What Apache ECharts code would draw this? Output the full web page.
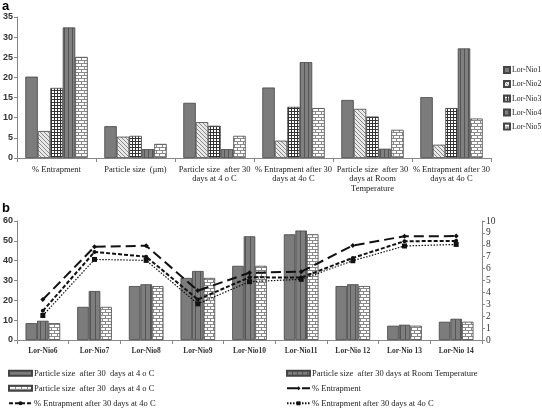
<!DOCTYPE html>
<html><head><meta charset="utf-8">
<script src="https://cdn.jsdelivr.net/npm/echarts@6/dist/echarts.min.js"></script>
<style>html,body{margin:0;padding:0;background:#fff}#c{width:542px;height:410px}</style>
</head><body><div id="c"></div>
<script>
// Panel a data
const catsA = ['% Entrapment', 'Particle size  (μm)', 'Particle size  after 30\ndays at 4 o C', '% Entrapment after 30\ndays at 4o C', 'Particle size  after 30\ndays at Room\nTemperature', '% Entrapment after 30\ndays at 4o C'];
const namesA = ['Lor-Nio1', 'Lor-Nio2', 'Lor-Nio3', 'Lor-Nio4', 'Lor-Nio5'];
const nio1 = [20.2, 7.9, 13.7, 17.5, 14.4, 15.1];
const nio2 = [6.7, 5.3, 8.9, 4.3, 12.2, 3.3];
const nio3 = [17.4, 5.5, 8.0, 12.7, 10.3, 12.4];
const nio4 = [32.4, 2.2, 2.2, 23.8, 2.3, 27.2];
const nio5 = [25.1, 3.5, 5.5, 12.4, 7.0, 9.8];
const ticksA = [0, 5, 10, 15, 20, 25, 30, 35];

// Panel b data
const catsB = ['Lor-Nio6', 'Lor-Nio7', 'Lor-Nio8', 'Lor-Nio9', 'Lor-Nio10', 'Lor-Nio11', 'Lor-Nio 12', 'Lor-Nio 13', 'Lor-Nio 14'];
const ps4 = [8.5, 16.7, 27.2, 31.3, 37.4, 53.3, 27.2, 7.2, 9.2];
const psRT = [9.7, 24.7, 28.1, 34.8, 52.3, 55.2, 28.1, 7.7, 10.7];
const ps4b = [8.5, 16.7, 27.2, 31.3, 37.4, 53.3, 27.2, 7.2, 9.2];
const ent = [3.4, 7.83, 7.92, 4.15, 5.65, 5.74, 7.94, 8.72, 8.73];
const ent4a = [2.45, 7.4, 7.0, 3.4, 5.27, 5.25, 6.9, 8.3, 8.33];
const ent4b = [2.06, 6.77, 6.69, 3.04, 4.9, 5.1, 6.66, 7.9, 8.03];
const ticksBL = [0, 10, 20, 30, 40, 50, 60];
const ticksBR = [0, 1, 2, 3, 4, 5, 6, 7, 8, 9, 10];
const namesB = ['Particle size  after 30  days at 4 o C', 'Particle size  after 30 days at Room Temperature', 'Particle size  after 30  days at 4 o C ', '% Entrapment', '% Entrapment after 30 days at 4o C', '% Entrapment after 30 days at 4o C '];

function pat(w, h, draw) {
  const c = document.createElement('canvas'); c.width = w; c.height = h;
  const g = c.getContext('2d'); draw(g, w, h); return {image: c, repeat: 'repeat'};
}
const solid = '#7c7c7c';
const hatch = pat(4, 4, (g) => { g.fillStyle = '#e8e8e8'; g.fillRect(0,0,4,4); g.strokeStyle = '#8a8a8a'; g.lineWidth = 1;
  g.beginPath(); g.moveTo(0,0); g.lineTo(4,4); g.moveTo(-1,3); g.lineTo(1,5); g.moveTo(3,-1); g.lineTo(5,1); g.stroke(); });
const grid = pat(3, 3, (g) => { g.fillStyle = '#ffffff'; g.fillRect(0,0,3,3); g.fillStyle = '#333'; g.fillRect(0,0,3,1); g.fillRect(0,0,1,3); });
const vstripe = pat(4, 4, (g) => { g.fillStyle = '#808080'; g.fillRect(0,0,4,4); g.fillStyle = '#555'; g.fillRect(0,0,1,4); });
const vstripeB = pat(5, 4, (g) => { g.fillStyle = '#7e7e7e'; g.fillRect(0,0,5,4); g.fillStyle = '#555'; g.fillRect(0,0,1,4); });
const brick = pat(6, 6, (g) => { g.fillStyle = '#ffffff'; g.fillRect(0,0,6,6); g.fillStyle = '#8a8a8a';
  g.fillRect(0,0,6,1); g.fillRect(0,3,6,1); g.fillRect(0,0,1,3); g.fillRect(3,3,1,3); });

const serif = 'Liberation Serif';
function barA(name, data, color) {
  return {name, type: 'bar', xAxisIndex: 0, yAxisIndex: 0, data, barGap: '0%', barCategoryGap: '21%',
    itemStyle: {color, borderColor: '#444', borderWidth: 0.8}};
}
function barB(name, data, color) {
  return {name, type: 'bar', xAxisIndex: 1, yAxisIndex: 1, data, barGap: '0%', barCategoryGap: '33%',
    itemStyle: {color, borderColor: '#444', borderWidth: 0.8}};
}
function lineB(name, data, dash, width, symbol, size) {
  return {name, type: 'line', xAxisIndex: 1, yAxisIndex: 2, data, symbol, symbolSize: size,
    lineStyle: {color: '#111', width, type: dash}, itemStyle: {color: '#111'}, z: 5};
}
function leg(name, left, cy, iw, ih, fs, icon) {
  const o = {data: [name], left, top: cy - 5, itemWidth: iw, itemHeight: ih, padding: 0,
    textStyle: {fontFamily: serif, fontSize: fs, lineHeight: 10, color: '#222', padding: [0, 0, 0, -3]}};
  if (icon) o.icon = icon;
  return o;
}

const chart = echarts.init(document.getElementById('c'), null, {renderer: 'canvas'});
chart.setOption({
  animation: false,
  backgroundColor: '#fff',
  graphic: [
    {type: 'text', left: 2, top: 0, style: {text: 'a', font: 'bold 13px Liberation Sans', fill: '#000'}},
    {type: 'text', left: 2, top: 202, style: {text: 'b', font: 'bold 13px Liberation Sans', fill: '#000'}}
  ],
  grid: [
    {left: 15, right: 51, top: 17, bottom: 252, containLabel: false},
    {left: 14, right: 60, top: 221, bottom: 70, containLabel: false}
  ],
  legend: [
    leg(namesA[0], 503, 70, 6, 6, 7.8, 'rect'),
    leg(namesA[1], 503, 84, 6, 6, 7.8, 'rect'),
    leg(namesA[2], 503, 98.5, 6, 6, 7.8, 'rect'),
    leg(namesA[3], 503, 112.5, 6, 6, 7.8, 'rect'),
    leg(namesA[4], 503, 126.5, 6, 6, 7.8, 'rect'),
    leg(namesB[0], 8, 373.3, 23, 5, 8.5, 'rect'),
    leg(namesB[2], 8, 388.3, 23, 5, 8.5, 'rect'),
    leg(namesB[4], 8, 403.3, 23, 5, 8.5),
    leg(namesB[1], 286, 373.3, 23, 5, 8.5, 'rect'),
    leg(namesB[3], 286, 388.3, 23, 5, 8.5),
    leg(namesB[5], 286, 403.3, 23, 5, 8.5)
  ],
  xAxis: [
    {type: 'category', gridIndex: 0, data: catsA,
      axisLine: {lineStyle: {color: '#888'}}, axisTick: {show: true, length: 4, lineStyle: {color: '#888'}},
      axisLabel: {interval: 0, fontFamily: serif, fontSize: 8.5, color: '#222', lineHeight: 9.5, margin: 7}},
    {type: 'category', gridIndex: 1, data: catsB,
      axisLine: {lineStyle: {color: '#888'}}, axisTick: {show: true, length: 4, lineStyle: {color: '#888'}},
      axisLabel: {interval: 0, fontFamily: serif, fontSize: 7.5, fontWeight: 'bold', color: '#333', margin: 7}}
  ],
  yAxis: [
    {type: 'value', gridIndex: 0, min: ticksA[0], max: ticksA[ticksA.length-1], interval: 5,
      axisLine: {show: true, lineStyle: {color: '#888'}}, axisTick: {show: true, length: 3, lineStyle: {color: '#888'}},
      splitLine: {show: false}, axisLabel: {fontFamily: 'Liberation Sans', fontWeight: 'bold', fontSize: 9, color: '#333', margin: 4}},
    {type: 'value', gridIndex: 1, min: ticksBL[0], max: ticksBL[ticksBL.length-1], interval: 10,
      axisLine: {show: true, lineStyle: {color: '#888'}}, axisTick: {show: true, length: 3, lineStyle: {color: '#888'}},
      splitLine: {show: false}, axisLabel: {fontFamily: 'Liberation Sans', fontWeight: 'bold', fontSize: 9, color: '#333', margin: 4}},
    {type: 'value', gridIndex: 1, position: 'right', min: ticksBR[0], max: ticksBR[ticksBR.length-1], interval: 1,
      axisLine: {show: true, lineStyle: {color: '#888'}}, axisTick: {show: true, length: 3, lineStyle: {color: '#888'}},
      splitLine: {show: false}, axisLabel: {fontFamily: serif, fontSize: 9.5, color: '#333', margin: 4}}
  ],
  series: [
    barA(namesA[0], nio1, solid),
    barA(namesA[1], nio2, hatch),
    barA(namesA[2], nio3, grid),
    barA(namesA[3], nio4, vstripe),
    barA(namesA[4], nio5, brick),
    barB(namesB[0], ps4, solid),
    barB(namesB[1], psRT, vstripeB),
    barB(namesB[2], ps4b, brick),
    lineB(namesB[3], ent, [10, 5], 2, 'diamond', 5),
    lineB(namesB[4], ent4a, [4, 2], 2, 'circle', 4),
    lineB(namesB[5], ent4b, [1.5, 1.5], 1.2, 'rect', 5)
  ]
});
</script></body></html>
